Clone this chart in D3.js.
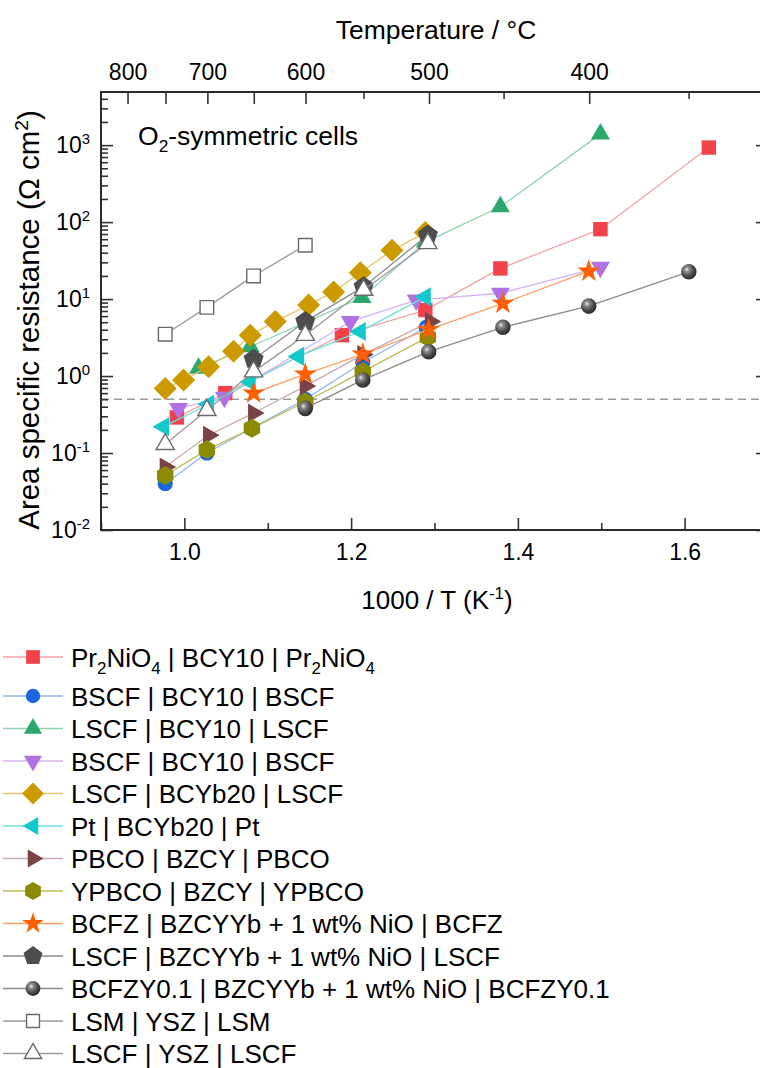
<!DOCTYPE html>
<html>
<head>
<meta charset="utf-8">
<script src="https://cdn.jsdelivr.net/npm/d3@7"></script>
<style>
  body { margin: 0; background: #fff; }
  svg { display: block; font-family: "Liberation Sans", Arial, sans-serif; }
</style>
</head>
<body>
<svg id="chart" width="760" height="1068"></svg>
<script>
// ---- data ----
const prX = [0.991, 1.049, 1.189, 1.289, 1.379, 1.499, 1.629];
const prY = [0.29, 0.60, 3.4, 7.2, 25, 81, 930];

const bscf1X = [0.977, 1.027, 1.081, 1.145, 1.214, 1.290];
const bscf1Y = [0.040, 0.10, 0.21, 0.50, 1.5, 4.3];

const lscf1X = [1.017, 1.079, 1.213, 1.289, 1.379, 1.499];
const lscf1Y = [1.26, 2.4, 10.5, 55, 158, 1390];

const bscf2X = [0.993, 1.048, 1.199, 1.278, 1.379, 1.499];
const bscf2Y = [0.38, 0.53, 5.1, 9.7, 11.9, 26];

const lscfYbX = [0.977, 0.999, 1.029, 1.059, 1.079, 1.109, 1.149, 1.179, 1.211, 1.249, 1.289];
const lscfYbY = [0.69, 0.89, 1.32, 2.1, 3.4, 5.1, 8.4, 12.4, 22, 43, 73];

const ptX = [0.975, 1.029, 1.079, 1.137, 1.211, 1.289];
const ptY = [0.22, 0.43, 0.84, 1.8, 3.8, 10.7];

const pbcoX = [0.977, 1.029, 1.083, 1.145, 1.214, 1.295];
const pbcoY = [0.066, 0.17, 0.33, 0.74, 1.9, 5.1];

const ypbcoX = [0.977, 1.027, 1.081, 1.145, 1.214, 1.292];
const ypbcoY = [0.051, 0.11, 0.21, 0.46, 1.14, 3.2];

const bcfzX = [1.083, 1.145, 1.214, 1.293, 1.382, 1.485];
const bcfzY = [0.60, 1.06, 1.93, 4.0, 8.8, 23];

const lscfNiX = [1.083, 1.145, 1.215, 1.292];
const lscfNiY = [1.65, 5.1, 14.5, 68];

const bcfzyX = [1.145, 1.214, 1.293, 1.382, 1.485, 1.605];
const bcfzyY = [0.38, 0.89, 2.07, 4.3, 8.1, 22.6];

const lsmX = [0.977, 1.027, 1.083, 1.145];
const lsmY = [3.5, 7.8, 20, 50];

const lscfYszX = [0.977, 1.027, 1.083, 1.145, 1.215, 1.292];
const lscfYszY = [0.13, 0.36, 1.14, 3.4, 13.1, 53];

const bottomTicks = [1.0, 1.2, 1.4, 1.6];
const bottomMinor = [0.9, 1.1, 1.3, 1.5, 1.7];
const tempLabels = [800, 700, 600, 500, 400];
const tempLong = [800, 750, 700, 650, 600, 500, 400];
const tempShort = [550, 450, 350];
const decades = [-2, -1, 0, 1, 2, 3];
const refLine = 0.5;

// series table: labels use _n for subscripts
const series = [
  { label: "Pr_2NiO_4 | BCY10 | Pr_2NiO_4", xs: prX, ys: prY, shape: "square", fill: "#f4424b", line: "#f5a3a6" },
  { label: "BSCF | BCY10 | BSCF", xs: bscf1X, ys: bscf1Y, shape: "circle", fill: "#1a66dd", line: "#8fb3ec" },
  { label: "LSCF | BCY10 | LSCF", xs: lscf1X, ys: lscf1Y, shape: "up", fill: "#2ba86b", line: "#8cd3ae" },
  { label: "BSCF | BCY10 | BSCF", xs: bscf2X, ys: bscf2Y, shape: "down", fill: "#b071e2", line: "#d6b4f0" },
  { label: "LSCF | BCYb20 | LSCF", xs: lscfYbX, ys: lscfYbY, shape: "diamond", fill: "#cc9900", line: "#e6c570" },
  { label: "Pt | BCYb20 | Pt", xs: ptX, ys: ptY, shape: "left", fill: "#14c9c9", line: "#6ee0e0" },
  { label: "PBCO | BZCY | PBCO", xs: pbcoX, ys: pbcoY, shape: "right", fill: "#7a4345", line: "#c9aaab" },
  { label: "YPBCO | BZCY | YPBCO", xs: ypbcoX, ys: ypbcoY, shape: "hex", fill: "#8b8a00", line: "#bdbd55" },
  { label: "BCFZ | BZCYYb + 1 wt% NiO | BCFZ", xs: bcfzX, ys: bcfzY, shape: "star", fill: "#ff5f00", line: "#ff9f66" },
  { label: "LSCF | BZCYYb + 1 wt% NiO | LSCF", xs: lscfNiX, ys: lscfNiY, shape: "pent", fill: "#4d4d4d", line: "#8c8c8c" },
  { label: "BCFZY0.1 | BZCYYb + 1 wt% NiO | BCFZY0.1", xs: bcfzyX, ys: bcfzyY, shape: "ball", fill: "url(#ball)", line: "#8c8c8c" },
  { label: "LSM | YSZ | LSM", xs: lsmX, ys: lsmY, shape: "osquare", fill: "#fff", line: "#9a9a9a" },
  { label: "LSCF | YSZ | LSCF", xs: lscfYszX, ys: lscfYszY, shape: "otri", fill: "#fff", line: "#9a9a9a" }
];

// ---- layout ----
const plotL = 101, plotR = 768, plotT = 92, plotB = 530;
const x = d3.scaleLinear().domain([0.9, 1.7]).range([plotL, plotR]);
const y = d3.scaleLog().domain([0.01, 4900]).range([plotB, plotT]);
const tickFont = 23;

const svg = d3.select("#chart");

const defs = svg.append("defs");
const grad = defs.append("radialGradient").attr("id", "ball")
  .attr("cx", "38%").attr("cy", "35%").attr("r", "65%");
grad.append("stop").attr("offset", "0%").attr("stop-color", "#f4f4f4");
grad.append("stop").attr("offset", "22%").attr("stop-color", "#909090");
grad.append("stop").attr("offset", "65%").attr("stop-color", "#4a4a4a");
grad.append("stop").attr("offset", "100%").attr("stop-color", "#2b2b2b");

function polygon(n, r, rot) {
  const pts = d3.range(n).map(i => {
    const a = rot + i * 2 * Math.PI / n;
    return [r * Math.sin(a), -r * Math.cos(a)];
  });
  return "M" + pts.map(p => p[0].toFixed(2) + "," + p[1].toFixed(2)).join("L") + "Z";
}

function markerPath(shape, k) {
  switch (shape) {
    case "square": return polygon(4, 10.2 * k, Math.PI / 4);
    case "osquare": return polygon(4, 9.6 * k, Math.PI / 4);
    case "circle": return d3.symbol(d3.symbolCircle, 180 * k * k)();
    case "ball": return d3.symbol(d3.symbolCircle, 190 * k * k)();
    case "up": return polygon(3, 11 * k, 0);
    case "otri": return polygon(3, 10.5 * k, 0);
    case "down": return polygon(3, 11 * k, Math.PI);
    case "left": return polygon(3, 11 * k, -Math.PI / 2);
    case "right": return polygon(3, 11 * k, Math.PI / 2);
    case "diamond": return polygon(4, 11.5 * k, 0);
    case "hex": return polygon(6, 9.5 * k, 0);
    case "pent": return polygon(5, 10.5 * k, 0);
    case "star": return d3.symbol(d3.symbolStar, 160 * k * k)();
  }
}

function styleMarker(sel, s) {
  const open = s.shape === "osquare" || s.shape === "otri";
  sel.attr("fill", s.fill)
    .attr("stroke", open ? "#6a6a6a" : "none")
    .attr("stroke-width", open ? 1.4 : 0);
}

// rich text: _n -> subscript, ^n -> superscript
function richText(sel, str, size) {
  const parts = str.split(/(_[0-9]+|\^-?[0-9]+)/).filter(p => p.length);
  let shift = 0;
  parts.forEach(p => {
    let txt = p, fs = size, next = 0;
    if (p[0] === "_") { txt = p.slice(1); next = size * 0.28; fs = size * 0.65; }
    else if (p[0] === "^") { txt = p.slice(1); next = -size * 0.38; fs = size * 0.65; }
    const dy = next - shift;
    shift = next;
    sel.append("tspan").attr("dy", dy).attr("font-size", fs).text(txt);
  });
}

// ---- reference line ----
svg.append("line")
  .attr("x1", plotL).attr("x2", plotR)
  .attr("y1", y(refLine)).attr("y2", y(refLine))
  .attr("stroke", "#9a9a9a").attr("stroke-width", 1.6)
  .attr("stroke-dasharray", "8,5");

// ---- series ----
const lineGen = d3.line().x(d => x(d[0])).y(d => y(d[1]));
series.forEach(s => {
  const pts = s.xs.map((v, i) => [v, s.ys[i]]);
  const g = svg.append("g");
  g.append("path").datum(pts)
    .attr("d", lineGen)
    .attr("fill", "none")
    .attr("stroke", s.line)
    .attr("stroke-width", 1.3);
  g.selectAll("path.m").data(pts).enter().append("path")
    .attr("class", "m")
    .attr("transform", d => `translate(${x(d[0])},${y(d[1])})`)
    .attr("d", markerPath(s.shape, 1))
    .call(styleMarker, s);
});

// ---- axes ----
function cleanAxis(g) {
  g.select(".domain").remove();
  g.selectAll(".tick line").attr("stroke", "#333").attr("stroke-width", 1.6);
  g.selectAll(".tick text").attr("fill", "#000").attr("font-size", tickFont)
    .attr("font-family", "Liberation Sans, Arial, sans-serif");
}

svg.append("g").attr("transform", `translate(0,${plotB})`)
  .call(d3.axisBottom(x).tickValues(bottomTicks).tickFormat(d3.format(".1f"))
    .tickSize(-12).tickPadding(14))
  .call(cleanAxis);
svg.append("g").attr("transform", `translate(0,${plotB})`)
  .call(d3.axisBottom(x).tickValues(bottomMinor).tickFormat("").tickSize(-7))
  .call(cleanAxis);

const toInvT = t => 1000 / (t + 273.15);
svg.append("g").attr("transform", `translate(0,${plotT})`)
  .call(d3.axisTop(x).tickValues(tempLabels.map(toInvT))
    .tickFormat(d => Math.round(1000 / d - 273.15)).tickSize(0).tickPadding(12))
  .call(cleanAxis);
svg.append("g").attr("transform", `translate(0,${plotT})`)
  .call(d3.axisTop(x).tickValues(tempLong.map(toInvT)).tickFormat("").tickSize(-12))
  .call(cleanAxis);
svg.append("g").attr("transform", `translate(0,${plotT})`)
  .call(d3.axisTop(x).tickValues(tempShort.map(toInvT)).tickFormat("").tickSize(-7))
  .call(cleanAxis);

const majorY = decades.map(e => Math.pow(10, e));
const minorY = [];
decades.forEach(e => d3.range(2, 10).forEach(m => {
  const v = m * Math.pow(10, e);
  if (v < y.domain()[1]) minorY.push(v);
}));

svg.append("g").attr("transform", `translate(${plotL},0)`)
  .call(d3.axisLeft(y).tickValues(majorY).tickFormat("").tickSize(-12))
  .call(cleanAxis);
svg.append("g").attr("transform", `translate(${plotL},0)`)
  .call(d3.axisLeft(y).tickValues(minorY).tickFormat("").tickSize(-7))
  .call(cleanAxis);
svg.append("g").attr("transform", `translate(${plotR},0)`)
  .call(d3.axisRight(y).tickValues(majorY).tickFormat("").tickSize(-12))
  .call(cleanAxis);
svg.append("g").attr("transform", `translate(${plotR},0)`)
  .call(d3.axisRight(y).tickValues(minorY).tickFormat("").tickSize(-7))
  .call(cleanAxis);

// y tick labels 10^n
decades.forEach(e => {
  const t = svg.append("text")
    .attr("x", plotL - 11).attr("y", y(Math.pow(10, e)) + 8)
    .attr("text-anchor", "end").attr("font-size", tickFont);
  richText(t, "10^" + e, tickFont);
});

// frame
svg.append("rect")
  .attr("x", plotL).attr("y", plotT)
  .attr("width", plotR - plotL).attr("height", plotB - plotT)
  .attr("fill", "none").attr("stroke", "#2a2a2a").attr("stroke-width", 2);

// titles
richText(svg.append("text").attr("x", 437).attr("y", 609)
  .attr("text-anchor", "middle").attr("font-size", 26), "1000 / T (K^-1)", 26);

svg.append("text").attr("x", 436).attr("y", 39)
  .attr("text-anchor", "middle").attr("font-size", 26.5)
  .text("Temperature / \u00b0C");

richText(svg.append("text")
  .attr("transform", `translate(39,${(plotT + plotB) / 2 + 9}) rotate(-90)`)
  .attr("text-anchor", "middle").attr("font-size", 29.5),
  "Area specific resistance (\u03a9 cm^2)", 29.5);

richText(svg.append("text").attr("x", 138).attr("y", 145).attr("font-size", 26.5),
  "O_2-symmetric cells", 26.5);

// ---- legend ----
const legendFont = 26;
const rowY = i => i === 0 ? 657 : 696 + (i - 1) * 32.5;
series.forEach((s, i) => {
  const g = svg.append("g").attr("transform", `translate(0,${rowY(i)})`);
  g.append("line").attr("x1", 3).attr("x2", 63)
    .attr("stroke", s.line).attr("stroke-width", 1.5);
  g.append("path").attr("transform", "translate(33,0)")
    .attr("d", markerPath(s.shape, 0.95))
    .call(styleMarker, s);
  richText(g.append("text").attr("x", 71).attr("y", 9.5).attr("font-size", legendFont),
    s.label, legendFont);
});
</script>
</body>
</html>
